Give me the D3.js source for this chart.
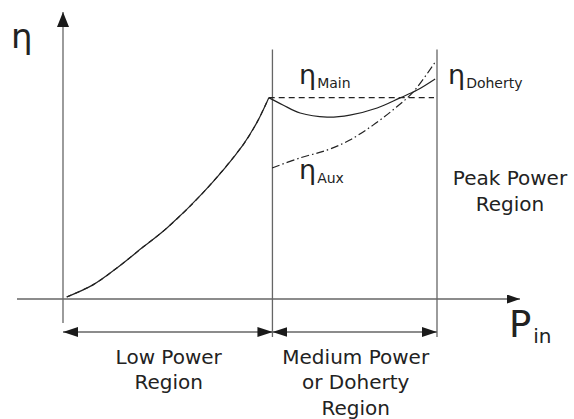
<!DOCTYPE html>
<html>
<head>
<meta charset="utf-8">
<script src="https://cdn.jsdelivr.net/npm/d3@7"></script>
<style>
  body { margin: 0; background: #fff; }
  text { font-family: "DejaVu Sans", Verdana, sans-serif; fill: #222; }
</style>
</head>
<body>
<div id="chart"></div>
<script>
// input power (arbitrary units, 0..10) and efficiency (%)
const pinLow = [0.1, 0.8, 1.44, 2.14, 2.78, 3.74, 4.81, 5.19, 5.5];
const etaLow = [0.8, 5.6, 12.3, 20.6, 28.2, 42.1, 61.1, 70.2, 79.8];

const pinDoherty = [5.5, 5.88, 6.34, 7.06, 7.67, 8.4, 9.01, 9.47, 9.95];
const etaDoherty = [79.9, 77.0, 73.8, 72.2, 73.0, 75.8, 79.8, 82.9, 87.3];

const pinMain = [5.5, 9.92];
const etaMain = [79.9, 79.9];

const pinAux = [5.59, 6.34, 7.06, 7.67, 8.29, 8.82, 9.36, 9.95];
const etaAux = [52.0, 56.0, 59.1, 63.1, 69.0, 75.0, 82.1, 94.0];

const regionBounds = [0, 5.6, 10];
const regionLabels = [
  ["Low Power", "Region"],
  ["Medium Power", "or Doherty", "Region"]
];
const peakLabel = ["Peak Power", "Region"];

const width = 574, height = 419;

const xScale = d3.scaleLinear().domain([0, 10]).range([63, 437]);
const yScale = d3.scaleLinear().domain([0, 100]).range([299, 47]);

const svg = d3.select("#chart")
  .append("svg")
  .attr("width", width)
  .attr("height", height);

const defs = svg.append("defs");
const marker = (id, len, half) => {
  defs.append("marker")
    .attr("id", id)
    .attr("markerUnits", "userSpaceOnUse")
    .attr("viewBox", `0 ${-half} ${len} ${half * 2}`)
    .attr("refX", len)
    .attr("refY", 0)
    .attr("markerWidth", len)
    .attr("markerHeight", half * 2)
    .attr("orient", "auto-start-reverse")
    .append("path")
    .attr("d", `M0,${-half}L${len},0L0,${half}Z`)
    .attr("fill", "#1a1a1a");
};
marker("arrowY", 15, 6);
marker("arrowX", 13, 4.5);
marker("arrowR", 15, 5);

const axisColor = "#666";
const x0 = xScale(0), y0 = yScale(0);

// axes
svg.append("line")
  .attr("x1", x0).attr("x2", x0)
  .attr("y1", y0 + 24).attr("y2", 12)
  .attr("stroke", axisColor).attr("stroke-width", 1.3)
  .attr("marker-end", "url(#arrowY)");

svg.append("line")
  .attr("x1", 17).attr("x2", 520)
  .attr("y1", y0).attr("y2", y0)
  .attr("stroke", axisColor).attr("stroke-width", 1.3)
  .attr("marker-end", "url(#arrowX)");

// region boundaries
svg.selectAll(".bound")
  .data(regionBounds.slice(1))
  .enter()
  .append("line")
  .attr("class", "bound")
  .attr("x1", d => xScale(d)).attr("x2", d => xScale(d))
  .attr("y1", yScale(99)).attr("y2", y0 + 38)
  .attr("stroke", axisColor).attr("stroke-width", 1.3);

// double arrows under the axis
const arrowY = y0 + 33;
svg.selectAll(".span")
  .data(d3.pairs(regionBounds))
  .enter()
  .append("line")
  .attr("class", "span")
  .attr("x1", d => xScale(d[0])).attr("x2", d => xScale(d[1]))
  .attr("y1", arrowY).attr("y2", arrowY)
  .attr("stroke", axisColor).attr("stroke-width", 1.3)
  .attr("marker-start", "url(#arrowR)")
  .attr("marker-end", "url(#arrowR)");

const zip = (xs, ys) => xs.map((x, i) => ({ pin: x, eta: ys[i] }));

const line = d3.line()
  .x(d => xScale(d.pin))
  .y(d => yScale(d.eta))
  .curve(d3.curveCatmullRom.alpha(0.5));

const curves = [
  { data: zip(pinLow, etaLow), dash: null },
  { data: zip(pinLow, etaLow), dash: "5,4" },
  { data: zip(pinDoherty, etaDoherty), dash: null },
  { data: zip(pinMain, etaMain), dash: "6,4" },
  { data: zip(pinAux, etaAux), dash: "8,3,1.5,3" }
];

svg.selectAll(".curve")
  .data(curves)
  .enter()
  .append("path")
  .attr("class", "curve")
  .attr("d", d => line(d.data))
  .attr("fill", "none")
  .attr("stroke", "#222")
  .attr("stroke-width", 1.2)
  .attr("stroke-dasharray", d => d.dash);

// labels
const eta = (x, y, sub, big, small, dy) => {
  const t = svg.append("text")
    .attr("x", x).attr("y", y)
    .style("font-size", big + "px")
    .text("η");
  if (sub) {
    t.append("tspan")
      .attr("dx", 1)
      .attr("dy", dy)
      .style("font-size", small + "px")
      .text(sub);
  }
};
eta(11, 48, null, 34);
eta(299, 84, "Main", 27, 14, 4);
eta(448, 84, "Doherty", 27, 14, 4);
eta(299, 179, "Aux", 27, 14, 4);

svg.append("text")
  .attr("x", 509).attr("y", 337)
  .style("font-size", "37px")
  .text("P")
  .append("tspan")
  .attr("dx", 2).attr("dy", 6)
  .style("font-size", "20px")
  .text("in");

const block = (lines, cx, y) => {
  svg.append("text")
    .attr("text-anchor", "middle")
    .style("font-size", "20px")
    .selectAll("tspan")
    .data(lines)
    .enter()
    .append("tspan")
    .attr("x", cx)
    .attr("y", (d, i) => y + i * 25.5)
    .text(d => d);
};

regionLabels.forEach((lines, i) => {
  block(lines, (xScale(regionBounds[i]) + xScale(regionBounds[i + 1])) / 2 + 1, 363.5);
});
block(peakLabel, 510, 185);
</script>
</body>
</html>
